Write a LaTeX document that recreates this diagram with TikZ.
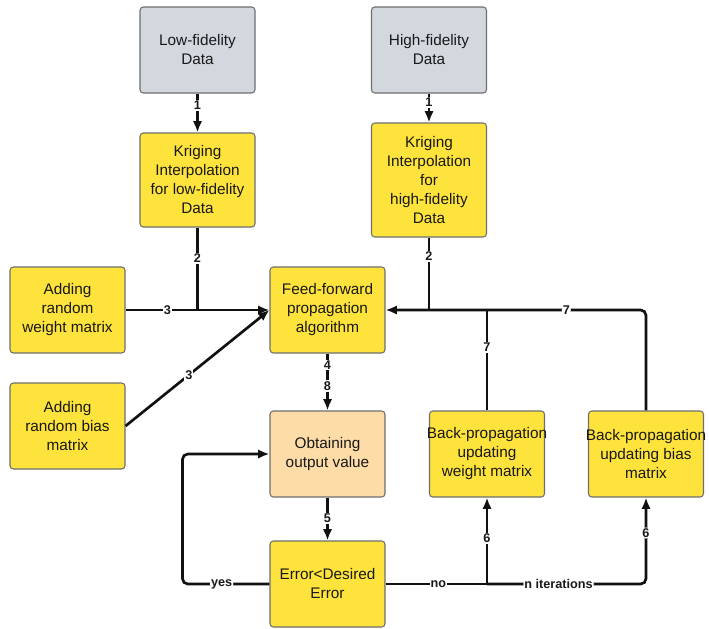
\documentclass[tikz,border=0pt]{standalone}
\usepackage{fontspec}
\setmainfont{Liberation Sans}
\usetikzlibrary{arrows.meta}
\definecolor{boxgray}{HTML}{D3D8DF}
\definecolor{boxyellow}{HTML}{FDE33B}
\definecolor{boxpeach}{HTML}{FDDCA8}
\definecolor{boxedge}{HTML}{6E6E6E}
\definecolor{wire}{HTML}{111111}
\newcommand{\wideline}[1]{\makebox[0pt][c]{#1}}
\begin{document}
\begin{tikzpicture}[x=0.75pt,y=-0.75pt,
  blk/.style={draw=boxedge, line width=0.8pt, rounded corners=2.5pt,
    minimum width=86.25pt, minimum height=64.5pt, align=center, inner sep=0pt,
    font=\fontsize{11.5}{14.25}\selectfont, text=black!90},
  databox/.style={blk, fill=boxgray},
  stepbox/.style={blk, fill=boxyellow},
  outbox/.style={blk, fill=boxpeach},
  wireline/.style={draw=wire, line width=2pt},
  conn/.style={wireline, -{Latex[length=8.5pt,width=7pt]}},
  lab/.style={fill=white, inner sep=0.8pt, text=black!90,
    font=\bfseries\fontsize{9.5}{10}\selectfont},
  ]
  \useasboundingbox (0,0) rectangle (709,628);

  % boxes
  \node[databox] (lowd) at (197.5,50) {Low-fidelity\\Data};
  \node[databox] (highd) at (429,50) {High-fidelity\\Data};
  \node[stepbox] (lowk) at (197.5,180) [minimum height=70.5pt] {Kriging\\Interpolation\\for low-fidelity\\Data};
  \node[stepbox] (highk) at (429,180) [minimum height=85.5pt] {Kriging\\Interpolation\\for\\high-fidelity\\Data};
  \node[stepbox] (wgt) at (67.5,310) {Adding\\random\\weight matrix};
  \node[stepbox] (ff) at (327.5,310) {Feed-forward\\propagation\\algorithm};
  \node[stepbox] (bias) at (67.5,426) {Adding\\random bias\\matrix};
  \node[outbox] (out) at (327.5,454) {Obtaining\\output value};
  \node[stepbox] (bpw) at (487,454) {\wideline{Back-propagation}\\updating\\weight matrix};
  \node[stepbox] (bpb) at (646,454) {\wideline{Back-propagation}\\updating bias\\matrix};
  \node[stepbox] (err) at (327.5,584) {Error<Desired\\Error};

  % junction points
  \coordinate (j2) at (lowk.south |- ff.west);
  \coordinate (jn) at (bpw.south |- err.east);

  % data flow into the network
  \draw[conn] (lowd) -- node[lab,pos=0.3]{1} (lowk);
  \draw[conn] (highd) -- node[lab,pos=0.3]{1} (highk);
  \draw[wireline] (lowk.south) -- node[lab,pos=0.37]{2} (j2);
  \draw[conn] (wgt.east) -- node[lab,pos=0.29]{3} (ff.west);
  \draw[conn] (bias.east) -- node[lab,pos=0.44]{3} (ff.west);
  \draw[wireline] (highk.south) -- node[lab,pos=0.26]{2} (highk.south |- ff.east);

  % feedback from back-propagation
  \draw[conn, rounded corners=4pt] (bpb.north) |- node[lab,pos=0.653]{7} (ff.east);
  \draw[wireline] (bpw.north) -- node[lab,pos=0.63]{7} (bpw.north |- ff.east);

  % forward pass and error check
  \draw[conn] (ff) -- node[lab,pos=0.2]{4} node[lab,pos=0.57]{8} (out);
  \draw[conn] (out) -- node[lab,pos=0.48]{5} (err);
  \draw[conn, rounded corners=4pt] (err.west) -- node[lab,pos=0.55]{yes} ++(-87,0) |- (out.west);
  \draw[conn] (err.east) -- node[lab,pos=0.52]{no} (jn) -- node[lab,pos=0.53]{6} (bpw.south);
  \draw[conn, rounded corners=4pt] (jn) -| node[lab,pos=0.225]{n iterations} node[lab,pos=0.795]{6} (bpb.south);
\end{tikzpicture}
\end{document}
